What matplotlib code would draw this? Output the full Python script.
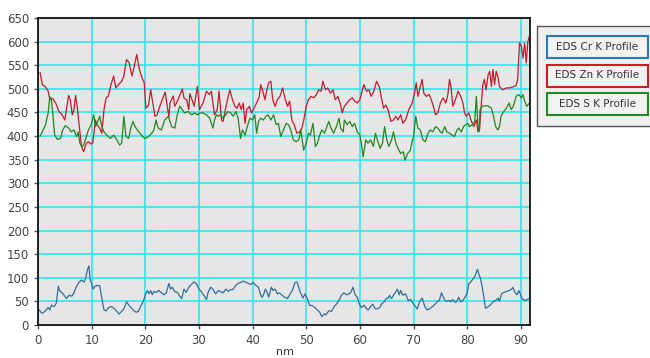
import matplotlib.pyplot as plt
from matplotlib.patches import Rectangle

# EDS line profiles (x in nm, counts)
zn_x = [0.4, 0.8, 1.4, 1.9, 2.2, 2.7, 3.3, 3.9, 4.5, 5.0, 5.4, 5.7, 6.0, 6.4, 6.7, 7.0, 7.3, 7.7, 8.1, 8.5,
        9.0, 9.4, 9.9, 10.2, 10.7, 11.0, 11.5, 11.9, 12.3, 12.7, 13.1, 13.6, 14.1, 14.5, 15.0, 15.6, 16.0,
        16.5, 17.0, 17.5, 17.9, 18.4, 18.9, 19.3, 19.8, 20.1, 20.6, 21.0, 21.4, 21.8, 22.2, 22.7, 23.3, 23.7,
        24.4, 24.6, 25.2, 25.5, 26.1, 26.9, 27.2, 27.7, 28.1, 28.3, 28.8, 29.1, 29.7, 30.1, 30.75, 31.4,
        31.9, 32.3, 32.6, 32.9, 33.4, 33.75, 34.2, 34.5, 34.8, 35.25, 35.75, 36.25, 36.7, 37.1, 37.5, 37.9,
        38.25, 38.6, 38.9, 39.4, 39.8, 40.25, 40.75, 41.25, 41.5, 41.9, 42.3, 42.6, 43.0, 43.4, 43.75, 44.2,
        44.6, 45.1, 45.6, 46.1, 46.5, 46.9, 47.3, 47.75, 48.25, 48.75, 49.2, 49.6, 50.0, 50.4, 50.9, 51.4,
        51.9, 52.3, 52.75, 53.1, 53.6, 54.0, 54.5, 55.0, 55.4, 55.9, 56.4, 56.7, 57.1, 57.6, 58.1, 58.6,
        59.0, 59.5, 60.0, 60.4, 60.75, 61.25, 61.7, 62.1, 62.6, 63.1, 63.6, 63.9, 64.4, 64.8, 65.25, 65.75,
        66.25, 66.7, 67.1, 67.6, 68.0, 68.5, 69.1, 69.75, 70.2, 70.5, 70.8, 71.25, 71.6, 71.9, 72.4, 72.9,
        73.3, 73.7, 74.1, 74.5, 75.0, 75.5, 76.0, 76.4, 76.7, 77.0, 77.3, 77.8, 78.3, 78.8, 79.2, 79.5,
        79.8, 80.3, 80.7, 81.2, 81.7, 82.0, 82.3, 82.6, 82.9, 83.2, 83.5, 83.9, 84.2, 84.5, 84.8, 85.1,
        85.4, 85.7, 86.0, 86.6, 87.3, 87.9, 88.5, 89.1, 89.4, 89.75, 90.1, 90.4, 90.7, 91.0, 91.3, 91.6]
zn_y = [534, 509, 504, 495, 477, 480, 470, 452, 445, 434, 463, 486, 477, 445, 456, 486, 463, 420, 378, 367,
        385, 388, 383, 385, 434, 424, 417, 406, 456, 481, 484, 509, 527, 502, 509, 516, 527,
        562, 555, 527, 545, 573, 541, 526, 513, 459, 466, 498, 470, 442, 445, 463, 481, 493,
        440, 470, 485, 463, 477, 500, 481, 477, 456, 490, 474, 463, 505, 456, 470, 495,
        488, 495, 470, 445, 456, 495, 434, 431, 449, 474, 498, 477, 463, 459, 470, 456,
        470, 427, 456, 463, 449, 459, 470, 484, 509, 495, 477, 495, 513, 516, 477, 463,
        477, 484, 502, 477, 463, 474, 434, 424, 406, 409, 417, 438, 463, 477, 484, 481,
        488, 498, 495, 516, 498, 502, 491, 498, 477, 484, 466, 449, 463, 470, 477, 481,
        474, 470, 477, 495, 509, 495, 498, 484, 495, 516, 505, 488, 459, 466, 456, 431,
        434, 442, 434, 445, 427, 434, 456, 470, 491, 513, 484, 505, 520, 491, 484, 488,
        477, 463, 445, 449, 470, 481, 470, 488, 520, 502, 463, 477, 495, 484, 470, 449,
        442, 449, 434, 420, 434, 409, 413, 463, 509, 520, 498, 530, 537, 505, 541, 509,
        537, 527, 505, 498, 502, 502, 504, 507, 520, 597, 590, 565, 597, 555, 600, 612]

s_x = [0.4, 0.8, 1.4, 1.9, 2.2, 2.5, 2.8, 3.1, 3.6, 4.2, 4.6, 5.1, 5.7, 6.2, 6.7, 7.2, 7.5, 7.8, 8.2, 8.5,
       9.0, 9.4, 9.9, 10.4, 10.7, 11.0, 11.5, 11.9, 12.3, 12.8, 13.5, 14.1, 14.7, 15.2, 15.6, 16.0, 16.4,
       16.9, 17.3, 17.7, 18.1, 18.5, 19.0, 19.5, 19.9, 20.6, 21.2, 21.6, 22.0, 22.4, 23.0, 23.6, 24.3,
       24.9, 25.5, 25.9, 26.4, 26.9, 27.3, 28.0, 28.6, 29.2, 29.8, 30.1, 30.75, 31.4, 32.0, 32.6, 32.9,
       33.25, 33.6, 34.0, 34.5, 35.0, 35.4, 35.9, 36.4, 36.9, 37.3, 37.75, 38.1, 38.6, 39.0, 39.5, 40.0,
       40.4, 40.75, 41.1, 41.5, 42.0, 42.5, 42.9, 43.4, 43.9, 44.4, 44.8, 45.25, 45.75, 46.25, 46.7, 47.1,
       47.6, 48.1, 48.6, 49.0, 49.5, 50.0, 50.4, 50.75, 51.25, 51.7, 52.1, 52.5, 52.9, 53.4, 53.75, 54.2,
       54.6, 55.1, 55.6, 56.1, 56.4, 56.9, 57.1, 57.6, 58.1, 58.6, 59.0, 59.5, 60.0, 60.25, 60.6, 61.1,
       61.5, 62.0, 62.5, 62.9, 63.25, 63.75, 64.2, 64.6, 65.0, 65.4, 65.9, 66.25, 66.7, 67.1, 67.6, 68.1,
       68.4, 68.9, 69.4, 69.8, 70.0, 70.4, 70.8, 71.25, 71.75, 72.2, 72.7, 73.1, 73.6, 74.1, 74.5, 75.0,
       75.3, 75.8, 76.2, 76.7, 77.2, 77.6, 78.1, 78.4, 78.9, 79.3, 79.7, 80.1, 80.4, 80.9, 81.4, 81.7,
       82.0, 82.2, 82.4, 82.8, 83.2, 83.85, 84.5, 84.9, 85.3, 85.7, 86.0, 86.3, 86.8, 87.3, 87.8, 88.2,
       88.6, 89.1, 89.6, 90.1, 90.4, 90.7, 91.1, 91.6]
s_y = [400, 409, 424, 449, 484, 477, 442, 402, 393, 395, 413, 422, 417, 409, 413, 399, 409, 385, 378, 381,
       399, 413, 424, 445, 420, 427, 442, 420, 409, 402, 395, 402, 392, 381, 385, 442, 399,
       395, 417, 431, 420, 413, 406, 399, 395, 399, 406, 413, 434, 417, 413, 434, 442,
       420, 417, 442, 463, 456, 449, 452, 445, 449, 445, 449, 449, 445, 438, 417, 434,
       445, 442, 445, 438, 445, 452, 449, 442, 452, 438, 395, 413, 402, 420, 438, 434,
       445, 406, 431, 438, 434, 442, 445, 434, 445, 424, 427, 399, 413, 427, 424, 413,
       392, 388, 392, 413, 370, 385, 406, 402, 427, 378, 385, 402, 413, 406, 417, 431,
       417, 406, 420, 438, 417, 409, 434, 424, 431, 420, 427, 409, 402, 385, 356, 392,
       385, 392, 378, 406, 392, 374, 385, 420, 392, 378, 392, 409, 385, 374, 363, 367,
       349, 363, 370, 392, 399, 442, 417, 413, 392, 388, 406, 413, 409, 420, 417, 409,
       406, 420, 409, 406, 402, 399, 413, 417, 409, 420, 424, 427, 420, 424, 431, 484,
       420, 409, 456, 463, 464, 464, 459, 442, 420, 413, 420, 442, 452, 459, 470, 456,
       463, 484, 488, 481, 488, 474, 463, 470]

cr_x = [0.2, 0.7, 1.1, 1.55, 1.9, 2.2, 2.5, 3.0, 3.4, 3.8, 4.0, 4.4, 4.8, 5.3, 5.8, 6.3, 6.7, 7.1, 7.6, 8.1,
        8.6, 8.9, 9.2, 9.5, 9.7, 10.0, 10.25, 10.6, 11.05, 11.5, 11.9, 12.3, 12.7, 13.2, 13.7, 14.2, 14.6,
        15.1, 15.6, 16.0, 16.5, 17.0, 17.5, 17.9, 18.3, 18.7, 19.1, 19.6, 20.0, 20.4, 20.7, 21.0, 21.3,
        21.6, 22.0, 22.5, 23.0, 23.5, 23.9, 24.4, 24.7, 25.0, 25.5, 26.0, 26.4, 26.8, 27.2, 27.6, 28.1,
        28.6, 29.1, 29.5, 30.0, 30.4, 30.9, 31.4, 31.7, 32.2, 32.6, 33.1, 33.6, 34.0, 34.5, 35.0, 35.5,
        35.9, 36.3, 36.8, 37.3, 37.8, 38.2, 38.7, 39.2, 39.6, 40.1, 40.6, 41.1, 41.5, 41.8, 42.1, 42.4,
        42.7, 43.0, 43.5, 43.8, 44.2, 44.6, 45.0, 45.5, 46.0, 46.5, 46.9, 47.4, 47.9, 48.3, 48.6, 48.9,
        49.4, 49.75, 50.2, 50.6, 51.1, 51.6, 52.05, 52.5, 52.9, 53.3, 53.7, 54.2, 54.7, 55.2, 55.6, 56.1,
        56.6, 57.0, 57.5, 57.95, 58.3, 58.7, 59.1, 59.5, 59.9, 60.3, 60.75, 61.2, 61.55, 62.0, 62.4, 62.8,
        63.2, 63.7, 64.0, 64.5, 64.9, 65.3, 65.5, 65.9, 66.3, 66.6, 67.0, 67.3, 67.6, 68.0, 68.5, 69.0,
        69.4, 69.9, 70.2, 70.7, 71.1, 71.6, 72.1, 72.5, 73.0, 73.5, 74.0, 74.4, 74.8, 75.2, 75.65, 76.1,
        76.6, 76.9, 77.3, 77.7, 78.1, 78.4, 78.8, 79.2, 79.6, 80.0, 80.3, 80.6, 81.1, 81.4, 81.9, 82.2,
        82.5, 82.8, 83.1, 83.4, 83.9, 84.3, 84.8, 85.3, 85.8, 86.0, 86.4, 86.8, 87.3, 87.8, 88.3, 88.5,
        88.9, 89.3, 89.6, 89.9, 90.2, 90.7, 91.2, 91.7]
cr_y = [32, 25, 27, 32, 37, 32, 42, 39, 46, 82, 73, 69, 64, 56, 63, 61, 68, 80, 90, 95,
        91, 100, 117, 125, 97, 88, 76, 82, 84, 83, 56, 32, 30, 37, 39, 35, 30,
        23, 29, 34, 49, 41, 35, 30, 27, 29, 39, 49, 64, 73, 66, 73, 64,
        71, 69, 73, 68, 64, 68, 88, 76, 80, 71, 69, 61, 56, 76, 69, 80,
        86, 91, 88, 76, 71, 63, 54, 69, 80, 76, 66, 73, 71, 68, 76, 71,
        75, 75, 83, 88, 90, 93, 91, 88, 86, 90, 84, 80, 63, 59, 66, 76,
        69, 59, 80, 73, 76, 66, 68, 63, 59, 56, 64, 73, 90, 91, 80, 69,
        57, 66, 56, 42, 41, 37, 32, 27, 18, 23, 22, 30, 29, 39, 44, 52,
        64, 68, 64, 66, 69, 80, 64, 59, 44, 37, 42, 35, 32, 39, 44, 35,
        34, 37, 44, 49, 56, 57, 63, 56, 64, 69, 76, 64, 73, 63, 66, 52,
        54, 46, 41, 34, 49, 57, 39, 32, 34, 39, 44, 49, 52, 68, 56, 50,
        52, 49, 54, 48, 50, 59, 49, 52, 59, 68, 88, 90, 98, 102, 118, 107,
        97, 80, 59, 35, 39, 42, 49, 52, 57, 50, 66, 69, 71, 73, 76, 80,
        69, 64, 73, 66, 56, 52, 54, 56]

labels = ['EDS Cr K Profile', 'EDS Zn K Profile', 'EDS S K Profile']
colors = ['#2f6e9c', '#c41a2c', '#21851f']
box_colors = ['#2a7ab5', '#cc2020', '#238a23']

W, H = 650, 358
fig = plt.figure(figsize=(W / 100, H / 100), dpi=100)
ax = fig.add_axes([38 / W, 1 - 325 / H, 492 / W, 307 / H])
ax.set_facecolor('#e6e6e6')

ax.plot(cr_x, cr_y, color=colors[0], lw=0.9)
ax.plot(zn_x, zn_y, color=colors[1], lw=0.9)
ax.plot(s_x, s_y, color=colors[2], lw=0.9)

ax.set_xlim(0, 91.7)
ax.set_ylim(0, 650)
ax.set_xticks(range(0, 91, 10))
ax.set_yticks(range(0, 651, 50))
ax.grid(color='#2ee8e8', lw=1.2)
ax.set_axisbelow(True)
ax.tick_params(labelsize=8.5, labelcolor='#444444', color='#555555', length=3, width=1)
for s in ax.spines.values():
    s.set_color('#111111')
    s.set_linewidth(1.3)

fig.text(285 / W, 1 - 352 / H, 'nm', ha='center', va='center', fontsize=8, color='#333333')

# legend panel drawn by hand, as in the instrument software
fig.patches.append(Rectangle((537 / W, 1 - 126 / H), 120 / W, 100 / H, transform=fig.transFigure,
                             facecolor='#f0f0f0', edgecolor='#555555', lw=1))
for i, (lab, bc) in enumerate(zip(labels, box_colors)):
    top = 36 + i * 28.5
    fig.patches.append(Rectangle((547 / W, 1 - (top + 22) / H), 101 / W, 22 / H, transform=fig.transFigure,
                                 facecolor='#f2f2f2', edgecolor=bc, lw=1.5))
    fig.text(597.5 / W, 1 - (top + 11) / H, lab, ha='center', va='center', fontsize=7.5, color='#333333')

fig.savefig('out.png', dpi=100)
